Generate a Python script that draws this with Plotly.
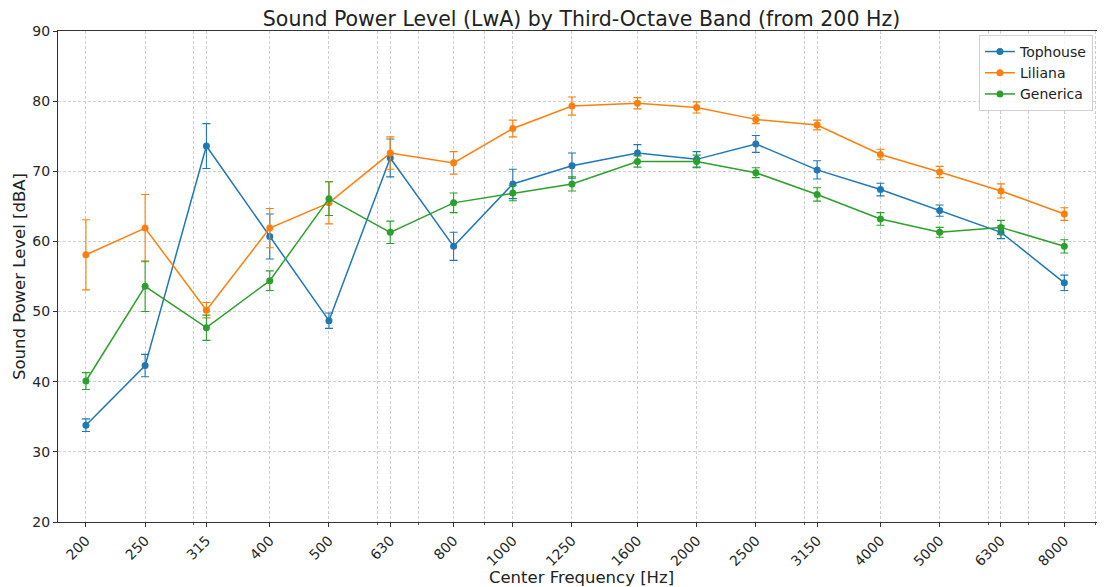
import plotly.graph_objects as go

bands = [200, 250, 315, 400, 500, 630, 800, 1000, 1250, 1600, 2000, 2500, 3150, 4000, 5000, 6300, 8000]
band_labels = [str(b) for b in bands]

tophouse = [33.8, 42.3, 73.6, 60.7, 48.7, 71.9, 59.3, 68.2, 70.8, 72.6, 71.7, 73.9, 70.2, 67.4, 64.4, 61.3, 54.1]
tophouse_err = [0.9, 1.6, 3.2, 3.2, 1.1, 2.7, 2.0, 2.1, 1.8, 1.2, 1.1, 1.2, 1.3, 0.9, 0.8, 0.9, 1.1]

liliana = [58.1, 61.9, 50.2, 61.9, 65.5, 72.6, 71.2, 76.1, 79.3, 79.7, 79.1, 77.4, 76.6, 72.4, 69.9, 67.2, 63.9]
liliana_err = [5.0, 4.8, 1.1, 2.8, 3.0, 2.3, 1.6, 1.2, 1.3, 0.8, 0.8, 0.6, 0.7, 0.75, 0.8, 1.0, 0.9]

generica = [40.1, 53.6, 47.7, 54.4, 66.1, 61.3, 65.5, 66.9, 68.2, 71.4, 71.4, 69.8, 66.7, 63.2, 61.3, 62.0, 59.3]
generica_err = [1.2, 3.6, 1.8, 1.4, 2.4, 1.6, 1.4, 1.1, 1.0, 0.8, 0.9, 0.7, 0.95, 0.9, 0.7, 1.0, 0.95]

series_names = ["Tophouse", "Liliana", "Generica"]
series_colors = ["#1f77b4", "#ff7f0e", "#2ca02c"]
minor_freqs = [300, 600, 700, 900, 3000, 6000, 7000, 9000]
y_ticks = [20, 30, 40, 50, 60, 70, 80, 90]

fig = go.Figure()
for name, vals, errs, col in zip(series_names, [tophouse, liliana, generica],
                                 [tophouse_err, liliana_err, generica_err], series_colors):
    fig.add_trace(go.Scatter(
        x=bands, y=vals, name=name, mode="lines+markers",
        line=dict(color=col, width=1.5),
        marker=dict(color=col, size=7, symbol="circle"),
        error_y=dict(type="data", array=errs, visible=True, color=col, thickness=1.1, width=4),
    ))

FONT = "DejaVu Sans"
GRID = "#cfcfcf"
W, H = 1097, 579
fig.update_layout(
    width=W, height=H,
    margin=dict(l=50, r=0, t=23, b=65, autoexpand=False),
    paper_bgcolor="white", plot_bgcolor="white",
    font=dict(family=FONT, size=14, color="#262626"),
    title=dict(text="Sound Power Level (LwA) by Third-Octave Band (from 200 Hz)",
               x=0.5, xref="paper", xanchor="center", y=1 - 11 / H, yanchor="middle",
               font=dict(family=FONT, size=20.5, color="#222")),
    showlegend=True,
    legend=dict(x=0.9885, xanchor="right", y=0.992, yanchor="top",
                bgcolor="rgba(255,255,255,0.85)", bordercolor="#d0d0d0", borderwidth=1,
                font=dict(family=FONT, size=14, color="#222"),
                itemwidth=30, tracegroupgap=0),
)
fig.update_xaxes(
    type="log", range=[2.2553, 3.9697], automargin=False,
    tickmode="array", tickvals=bands, ticktext=band_labels, tickangle=-45,
    ticks="outside", ticklen=4, tickcolor="#333", tickfont=dict(size=14),
    showline=True, linecolor="#333", linewidth=1, mirror=True,
    showgrid=True, gridcolor=GRID, griddash="3px,2px", gridwidth=0.8,
    minor=dict(tickmode="array", tickvals=minor_freqs, ticks="outside", ticklen=2,
               tickcolor="#555", showgrid=True, gridcolor=GRID, griddash="3px,2px", gridwidth=0.7),
    title=dict(text="Center Frequency [Hz]", font=dict(family=FONT, size=16.5, color="#222"), standoff=0),
    zeroline=False,
)
fig.update_yaxes(
    range=[20, 90], tickmode="array", tickvals=y_ticks, automargin=False,
    ticks="outside", ticklen=4, tickcolor="#333", tickfont=dict(size=14),
    showline=True, linecolor="#333", linewidth=1,
    showgrid=True, gridcolor=GRID, griddash="3px,2px", gridwidth=0.8,
    title=dict(text="Sound Power Level [dBA]", font=dict(family=FONT, size=16.5, color="#222"), standoff=2),
    zeroline=False,
)
fig.write_html("out.html")
